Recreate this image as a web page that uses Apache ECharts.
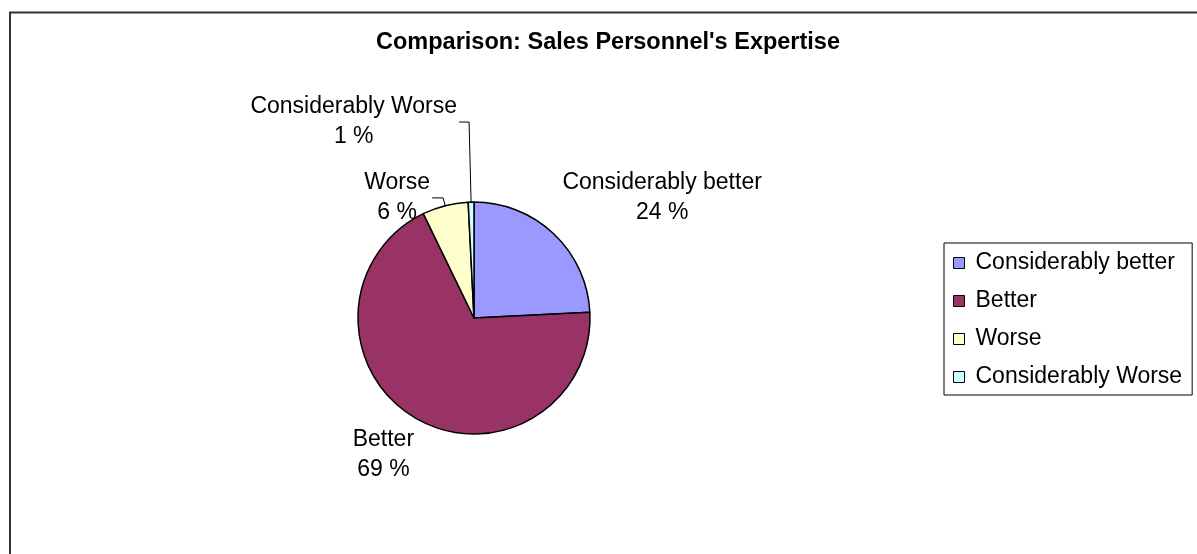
<!DOCTYPE html>
<html>
<head>
<meta charset="utf-8">
<script src="https://cdn.jsdelivr.net/npm/echarts@6/dist/echarts.min.js"></script>
<style>
  html, body { margin: 0; background: #fff; }
  #chart { width: 1197px; height: 554px; }
</style>
</head>
<body>
<div id="chart"></div>
<script>
const titleText = "Comparison: Sales Personnel's Expertise";
const categories = ["Considerably better", "Better", "Worse", "Considerably Worse"];
const shares = [24.2, 68.6, 6.4, 0.8];
const sliceColors = ["#9999ff", "#993366", "#ffffcc", "#ccffff"];

// label placement: [length, length2, showLine, distance]
const labelPlacement = [[50, -31, false, 5], [43, -26, false, 5], [8, 11, true, 2], [80, 10, true, 2]];

const font = "'Liberation Sans', Arial, sans-serif";
const chart = echarts.init(document.getElementById("chart"));

chart.setOption({
  animation: false,
  backgroundColor: "#fff",
  title: {
    text: titleText,
    left: 376,
    top: 31,
    padding: 0,
    textStyle: { fontFamily: font, fontSize: 23.5, fontWeight: "bold", color: "#000" },
  },
  graphic: [{
    type: "rect",
    silent: true,
    shape: { x: 10, y: 12.5, width: 1300, height: 700 },
    style: { fill: "none", stroke: "#333", lineWidth: 2 },
  }],
  legend: {
    orient: "vertical",
    left: 944,
    top: 243,
    padding: [8, 10, 6, 9],
    itemWidth: 11,
    itemHeight: 11,
    itemGap: 14,
    icon: "rect",
    borderColor: "#000",
    borderWidth: 1,
    selectedMode: false,
    itemStyle: { borderColor: "#000", borderWidth: 1 },
    textStyle: { fontFamily: font, fontSize: 23, lineHeight: 24, color: "#000", padding: [0, 0, 0, 6] },
    data: categories,
  },
  series: [{
    type: "pie",
    center: [474, 318],
    radius: 116,
    startAngle: 90,
    clockwise: true,
    avoidLabelOverlap: false,
    emphasis: { disabled: true },
    itemStyle: { borderColor: "#000", borderWidth: 1.5 },
    label: {
      position: "outside",
      alignTo: "none",
      formatter: p => `{t|${p.name}}\n{t|${Math.round(p.percent)} %}`,
      rich: { t: { fontFamily: font, fontSize: 23, lineHeight: 30, color: "#000", align: "center" } },
    },
    labelLine: { lineStyle: { color: "#000", width: 1 } },
    data: categories.map((name, i) => ({
      name,
      value: shares[i],
      itemStyle: { color: sliceColors[i] },
      label: { distanceToLabelLine: labelPlacement[i][3] },
      labelLine: { show: labelPlacement[i][2], length: labelPlacement[i][0], length2: labelPlacement[i][1] },
    })),
  }],
});
</script>
</body>
</html>
